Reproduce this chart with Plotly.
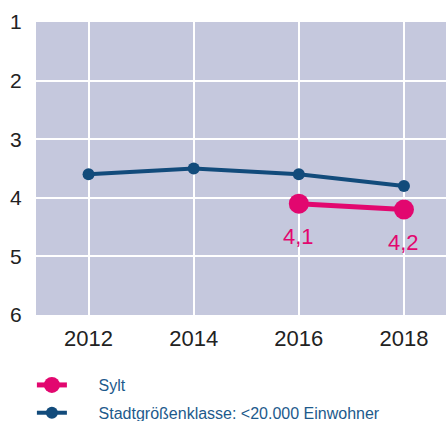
import plotly.graph_objects as go

years = [2012, 2014, 2016, 2018]
stadt_values = [3.6, 3.5, 3.6, 3.8]
sylt_years = [2016, 2018]
sylt_values = [4.1, 4.2]
sylt_labels = ["4,1", "4,2"]
y_ticks = [1, 2, 3, 4, 5, 6]

pink = "#e2076f"
blue = "#124b7b"
legend_blue = "#1d5a8c"
pad = "\u00a0" * 6

fig = go.Figure()
fig.add_trace(go.Scatter(
    x=sylt_years, y=sylt_values, mode="lines+markers", name=pad + "Sylt",
    legendgroup="a",
    line=dict(color=pink, width=5), marker=dict(size=20, color=pink),
))
fig.add_trace(go.Scatter(
    x=years, y=stadt_values, mode="lines+markers",
    name=pad + "Stadtgrößenklasse: <20.000 Einwohner", legendgroup="b",
    line=dict(color=blue, width=4), marker=dict(size=12, color=blue),
))

for xv, yv, lab in zip(sylt_years, sylt_values, sylt_labels):
    fig.add_annotation(x=xv, y=yv, text=lab, showarrow=False, yshift=-33,
                       font=dict(color=pink, size=22, family="Liberation Sans"))

fig.update_layout(
    width=446, height=421,
    margin=dict(l=36, r=0, t=22, b=106, autoexpand=False),
    paper_bgcolor="white", plot_bgcolor="#c5c8dd",
    font=dict(family="Liberation Sans", color="#222222"),
    showlegend=True,
    legend=dict(
        x=-0.01, y=-0.181, xanchor="left", yanchor="top",
        font=dict(size=16, color=legend_blue), tracegroupgap=4,
        traceorder="grouped",
    ),
    xaxis=dict(
        range=[2011, 2018.8], tickvals=years, ticktext=[str(y) for y in years],
        showgrid=True, gridcolor="white", gridwidth=1.5, zeroline=False,
        tickfont=dict(size=22, color="#222222"), ticks="outside", ticklen=4,
        tickcolor="rgba(0,0,0,0)", showline=False,
    ),
    yaxis=dict(
        range=[6, 1], tickvals=y_ticks, showgrid=True, gridcolor="white",
        gridwidth=1.5, zeroline=False, tickfont=dict(size=21, color="#222222"),
        ticks="outside", ticklen=9, tickcolor="rgba(0,0,0,0)",
    ),
)
fig.write_html("out.html", config={"displayModeBar": False},
               post_script="document.body.style.margin='0';")
